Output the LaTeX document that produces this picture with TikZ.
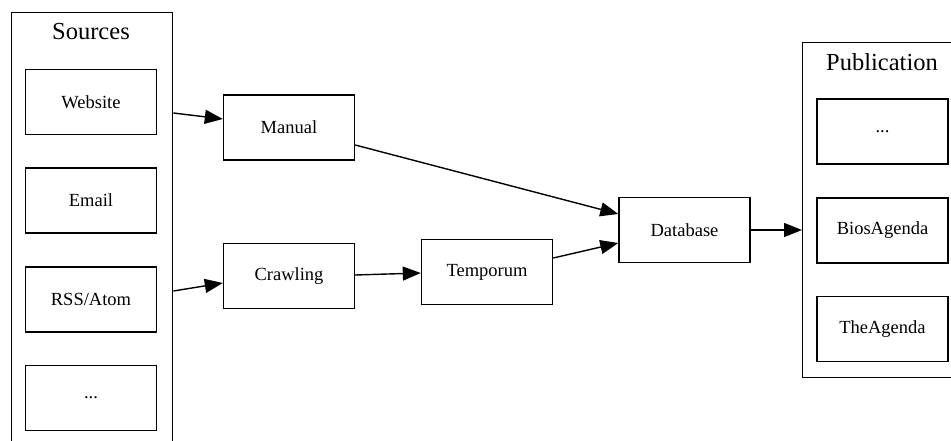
\documentclass[tikz,border=0pt]{standalone}
\usepackage{fontspec}
\setmainfont{Liberation Serif}
\usetikzlibrary{arrows.meta,calc}
\begin{document}
\begin{tikzpicture}[x=1pt,y=-1pt,
  box/.style={draw,line width=1.4pt,minimum width=131pt,minimum height=65pt,inner sep=0pt,font=\fontsize{18.5}{22}\selectfont},
  cluster/.style={draw,line width=1.4pt,inner sep=0pt,anchor=north west},
  lbl/.style={font=\fontsize{24.5}{28}\selectfont,inner sep=0pt},
  arr/.style={line width=1.4pt,-{Triangle[length=18pt,width=14pt]}}]
\useasboundingbox (0,0) rectangle (951,441);
\clip (0,0) rectangle (951,441);
% clusters
\node[cluster,minimum width=161pt,minimum height=460pt] (sources) at (11,12) {};
\node[lbl] (sourceslbl) at (91,32) {Sources};
\node[cluster,minimum width=161pt,minimum height=335pt] (publication) at (802,42) {};
\node[lbl] (publbl) at (882,62) {Publication};
% source nodes
\node[box] (website) at (91,102) {Website};
\node[box] (email) at (91,200.5) {Email};
\node[box] (rss) at (91,299.5) {RSS/Atom};
\node[box] (sdots) at (91,398) {...};
% middle
\node[box] (manual) at (289,127.5) {Manual};
\node[box] (crawling) at (289,276) {Crawling};
\node[box] (temporum) at (487,272) {Temporum};
\node[box] (database) at (684.5,230) {Database};
% publication nodes
\node[box] (pdots) at (882.5,131.5) {...};
\node[box] (bios) at (882.5,230.5) {BiosAgenda};
\node[box] (theagenda) at (882.5,329) {TheAgenda};
% edges
\draw[arr] ($(website.east -| sources.east)+(0,11)$) -- ($(manual.west)+(0,-8.5)$);
\draw[arr] ($(rss.east -| sources.east)+(0,-8.5)$) -- ($(crawling.west)+(0,7)$);
\draw[arr] ($(manual.east)+(0,17.5)$) -- ($(database.west)+(0,-16)$);
\draw[arr] ($(crawling.east)+(0,-1)$) -- ($(temporum.west)+(0,1)$);
\draw[arr] ($(temporum.east)+(0,-14)$) -- ($(database.west)+(0,13)$);
\draw[arr] (database.east) -- (database.east -| publication.west);
\end{tikzpicture}
\end{document}
